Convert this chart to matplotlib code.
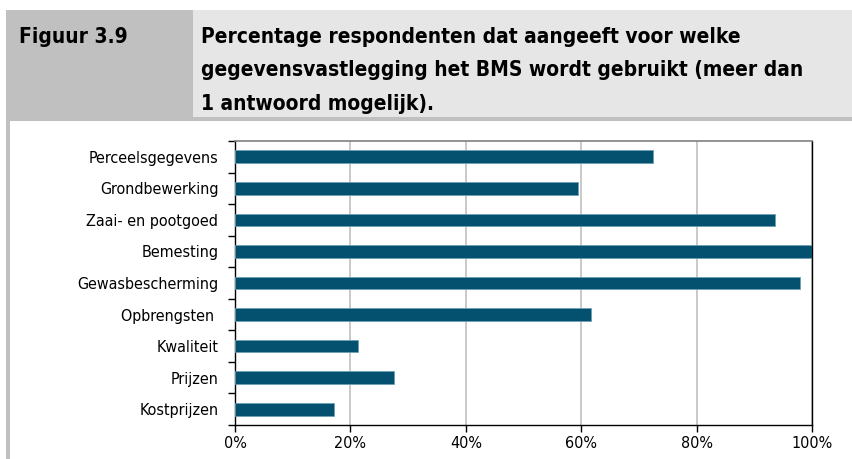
import matplotlib
matplotlib.use("Agg")
import matplotlib.pyplot as plt
from matplotlib.patches import Rectangle
from matplotlib.ticker import FixedLocator, PercentFormatter

categories = ["Perceelsgegevens", "Grondbewerking", "Zaai- en pootgoed", "Bemesting",
              "Gewasbescherming", "Opbrengsten ", "Kwaliteit", "Prijzen", "Kostprijzen"]
values = [72.4, 59.5, 93.6, 100.0, 97.9, 61.7, 21.3, 27.6, 17.1]
xticks = [0, 20, 40, 60, 80, 100]

W, H = 853, 459
plt.rcParams["font.family"] = ["DejaVu Sans"]
plt.rcParams["font.stretch"] = "condensed"

fig = plt.figure(figsize=(W / 100, H / 100), dpi=100)


def box(x0, y0, x1, y1, color):
    fig.add_artist(Rectangle((x0 / W, 1 - y1 / H), (x1 - x0) / W, (y1 - y0) / H,
                             transform=fig.transFigure, facecolor=color,
                             edgecolor="none", zorder=0))


# header blocks
box(193, 10, 852, 117, "#e6e6e6")
box(6, 10, 193, 117, "#c0c0c0")
box(6, 117, 852, 121, "#c0c0c0")
box(6, 10, 10, 459, "#c0c0c0")

fig.text(19 / W, 1 - 37 / H, "Figuur 3.9", fontsize=15, fontweight="bold",
         va="center", ha="left")
title = ["Percentage respondenten dat aangeeft voor welke",
         "gegevensvastlegging het BMS wordt gebruikt (meer dan",
         "1 antwoord mogelijk)."]
for i, line in enumerate(title):
    fig.text(201 / W, 1 - (37 + 33.5 * i) / H, line, fontsize=15,
             fontweight="bold", va="center", ha="left")

ax = fig.add_axes([235 / W, 1 - 425 / H, (812 - 235) / W, (425 - 141) / H])
y = list(range(len(categories)))
ax.barh(y, values, height=0.4, color="#03506f", edgecolor="#6f9fb5",
        linewidth=0.6, zorder=3)
ax.set_ylim(len(categories) - 0.5, -0.5)
ax.set_xlim(0, 100)
ax.set_yticks(y)
ax.set_yticklabels(categories, fontsize=11.5)
ax.yaxis.set_minor_locator(FixedLocator([i - 0.5 for i in range(len(categories) + 1)]))
ax.tick_params(axis="y", which="major", length=0, pad=12)
ax.tick_params(axis="y", which="minor", length=5, width=1, color="black")
ax.set_xticks(xticks)
ax.xaxis.set_major_formatter(PercentFormatter(decimals=0))
ax.tick_params(axis="x", length=5, width=1, labelsize=11.5, pad=3)
ax.grid(axis="x", color="#c0c0c0", linewidth=1.2, zorder=0)
for s in ["left", "bottom", "right"]:
    ax.spines[s].set_color("black")
    ax.spines[s].set_linewidth(1)
ax.spines["top"].set_color("#808080")
ax.spines["top"].set_linewidth(1.2)

fig.savefig("out.png", dpi=100)
